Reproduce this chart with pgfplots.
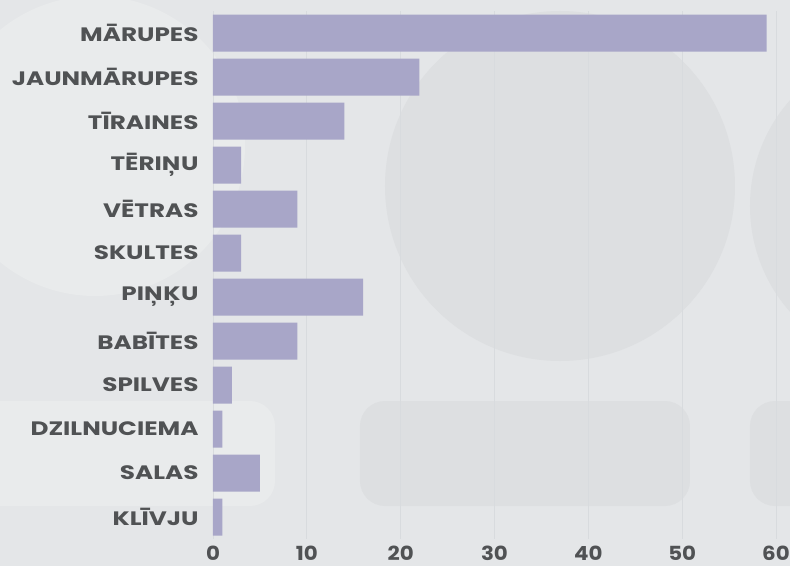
\documentclass[border=0pt]{standalone}
\usepackage{pgfplots}
\pgfplotsset{compat=1.18}
\usepackage{fontspec}
\setmainfont{Poppins}[FakeStretch=1.1]
\newfontfamily\ylabfont{Poppins}[FakeStretch=1.27]

\definecolor{bg}{HTML}{E4E6E8}
\definecolor{decodark}{HTML}{DDDFE1}
\definecolor{decolight}{HTML}{E9EBEC}
\definecolor{barc}{HTML}{A8A6C8}
\definecolor{gridc}{HTML}{D8DBDE}
\definecolor{labc}{HTML}{505254}

\pgfdeclarelayer{background}
\pgfsetlayers{background,main}

\begin{document}
\begin{tikzpicture}
\begin{axis}[
  name=ax,
  scale only axis,
  width=563bp, height=528bp,
  xbar, bar width=37bp, bar shift=0pt,
  xmin=0, xmax=60,
  ymin=-0.5, ymax=11.5,
  y dir=reverse,
  ytick={0,...,11},
  yticklabels={MĀRUPES, JAUNMĀRUPES, TĪRAINES, TĒRIŅU, VĒTRAS, SKULTES,
               PIŅĶU, BABĪTES, SPILVES, DZILNUCIEMA, SALAS, KLĪVJU},
  xtick={0,10,...,60},
  axis line style={draw=none},
  major tick length=0pt,
  xmajorgrids,
  grid style={gridc, line width=0.8bp},
  tick label style={font=\bfseries\fontsize{19.5}{20}\selectfont, text=labc},
  yticklabel style={xshift=-11bp, font=\ylabfont\bfseries\fontsize{19.5}{20}\selectfont},
  xticklabel style={yshift=-3bp},
  /pgf/number format/assume math mode=true,
]
\addplot[fill=barc, draw=none] coordinates {
  (59,0) (22,1) (14,2) (3,3) (9,4) (3,5)
  (16,6) (9,7) (2,8) (1,9) (5,10) (1,11)
};
\end{axis}
\coordinate (O) at ([xshift=-213bp,yshift=-27bp]ax.south west);
\begin{pgfonlayer}{background}
  \begin{scope}[shift={(O)}, x=1bp, y=1bp]
  \fill[bg] (0,0) rectangle (790,566);
  % faint decorative shapes of the background
  \begin{scope}
  \clip (0,0) rectangle (790,566);
  \fill[decolight] (95,420) circle (150);
  \fill[decodark] (560,380) circle (175);
  \fill[decodark] (910,360) circle (160);
  \fill[decodark, rounded corners=25bp] (360,60) rectangle (690,165);
  \fill[decolight, rounded corners=25bp] (-40,60) rectangle (275,165);
  \fill[decodark, rounded corners=25bp] (750,60) rectangle (830,165);
  \end{scope}
  \end{scope}
\end{pgfonlayer}
\pgfresetboundingbox
\path[use as bounding box] (O) rectangle ([xshift=790bp,yshift=566bp]O);
\end{tikzpicture}
\end{document}
